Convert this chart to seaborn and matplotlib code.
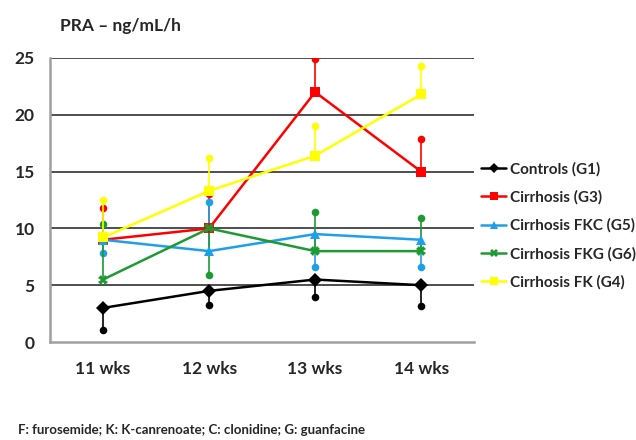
import pandas as pd
import matplotlib.pyplot as plt
import seaborn as sns

# Data
weeks = ["11 wks", "12 wks", "13 wks", "14 wks"]
groups = ["Controls (G1)", "Cirrhosis (G3)", "Cirrhosis FKC (G5)",
          "Cirrhosis FKG (G6)", "Cirrhosis FK (G4)"]

controls = [3.0, 4.5, 5.5, 5.0]
cirrhosis = [9.0, 10.0, 22.0, 15.0]
cirrhosis_fkc = [9.0, 8.0, 9.5, 9.0]
cirrhosis_fkg = [5.5, 10.0, 8.0, 8.0]
cirrhosis_fk = [9.2, 13.3, 16.4, 21.8]

# one-sided error bar ends
controls_err = [1.1, 3.3, 4.0, 3.2]
cirrhosis_err = [11.8, 13.0, 24.9, 17.9]
cirrhosis_fkc_err = [7.8, 12.3, 6.6, 6.6]
cirrhosis_fkg_err = [10.4, 5.9, 11.4, 10.9]
cirrhosis_fk_err = [12.5, 16.2, 19.0, 24.3]

values = [controls, cirrhosis, cirrhosis_fkc, cirrhosis_fkg, cirrhosis_fk]
err_ends = [controls_err, cirrhosis_err, cirrhosis_fkc_err,
            cirrhosis_fkg_err, cirrhosis_fk_err]

colors = ["#000000", "#FF0000", "#1E9FEA", "#1E9A32", "#FFFF00"]
markers = ["D", "s", "^", "X", "s"]

df = pd.DataFrame(
    [(g, i, w, v) for g, vals in zip(groups, values)
     for i, (w, v) in enumerate(zip(weeks, vals))],
    columns=["group", "pos", "week", "value"],
)

sns.set_style("white")
plt.rcParams["font.family"] = ["Lato", "DejaVu Sans"]
plt.rcParams["font.weight"] = "bold"

fig = plt.figure(figsize=(6.36, 4.40), dpi=100)
ax = fig.add_axes([0.0786, 0.2227, 0.667, 0.6455])

# gridlines
for y in [5, 10, 15, 20, 25]:
    ax.axhline(y, color="#404040", lw=1.3, zorder=0)

# error bars (drawn under lines)
for g, vals, ends, c in zip(groups, values, err_ends, colors):
    ax.vlines(range(len(weeks)), vals, ends, color=c, lw=1.2, zorder=1)
    ax.scatter(range(len(weeks)), ends, color=c, s=30, zorder=1, linewidths=0)

sns.lineplot(
    data=df, x="pos", y="value", hue="group", style="group",
    hue_order=groups, style_order=groups,
    palette=dict(zip(groups, colors)),
    markers=dict(zip(groups, markers)),
    dashes=False, lw=1.8, markersize=7, markeredgewidth=0,
    ax=ax, legend=True, zorder=2,
)

ax.set_xlim(-0.5, 3.5)
ax.set_ylim(0, 25)
ax.set_xticks(range(len(weeks)))
ax.set_xticklabels(weeks)
ax.set_xticks([-0.5, 0.5, 1.5, 2.5, 3.5], minor=True)
ax.tick_params(axis="x", which="major", length=0, pad=14, labelsize=12.5)
ax.tick_params(axis="x", which="minor", length=5, color="#909090", width=1.5,
               direction="out")
ax.set_yticks([0, 5, 10, 15, 20, 25])
ax.tick_params(axis="y", length=5, color="#909090", width=1.5, labelsize=12.5,
               pad=6, direction="out")
ax.set_xlabel("")
ax.set_ylabel("")
for s in ["top", "right"]:
    ax.spines[s].set_visible(False)
for s in ["left", "bottom"]:
    ax.spines[s].set_color("#A0A0A0")
    ax.spines[s].set_linewidth(1.8)

handles, labels = ax.get_legend_handles_labels()
for h in handles:
    h.set_markersize(5.5)
ax.legend_.remove()
fig.legend(handles, labels, loc="upper left", bbox_to_anchor=(0.757, 0.632),
           frameon=False, fontsize=11, handlelength=1.6, handletextpad=0.25,
           labelspacing=0.9, borderpad=0, borderaxespad=0)

fig.text(0.094, 0.93, "PRA – ng/mL/h", fontsize=12.5, weight="bold")
fig.text(0.028, 0.013, "F: furosemide; K: K-canrenoate; C: clonidine; G: guanfacine",
         fontsize=9.5, weight="bold")

fig.savefig("out.png", dpi=100)
